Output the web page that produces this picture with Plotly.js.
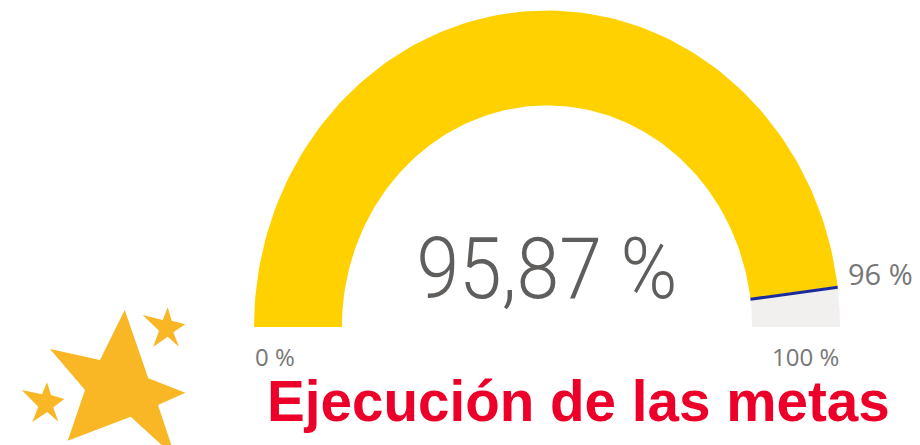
<!DOCTYPE html>
<html><head><meta charset="utf-8">
<script src="https://cdn.plot.ly/plotly-3.0.1.min.js"></script>
<style>html,body{margin:0;padding:0;background:#fff}#c{width:920px;height:445px}</style></head>
<body><div id="c"></div>
<script>
var gaugeMin = 0, gaugeMax = 100;
var gaugeValue = 95.87;
var gaugeTarget = 96;
var valueLabel = '95,87 %';
var minLabel = '0 %', maxLabel = '100 %', targetLabel = '96 %';
var titleText = 'Ejecución de las metas';
var colors = {bar:'#FFD100', rest:'#F1F0EF', target:'#1B2A9C', star:'#F9B625', title:'#EC0029', big:'#605E5C', small:'#777777'};
var innerRatio = 0.7;

var W = 920, H = 445, cx = 547, cy = 327, rx = 293, ry = 316.5;

function pt(pct, r){
  var a = Math.PI * (1 - (pct - gaugeMin) / (gaugeMax - gaugeMin));
  return [r * Math.cos(a), r * Math.sin(a)];
}
function band(from, to){
  var xs = [], ys = [], n = 120, i, p;
  for (i = 0; i <= n; i++){ p = pt(from + (to - from) * i / n, 1); xs.push(p[0]); ys.push(p[1]); }
  for (i = n; i >= 0; i--){ p = pt(from + (to - from) * i / n, innerRatio); xs.push(p[0]); ys.push(p[1]); }
  xs.push(xs[0]); ys.push(ys[0]);
  return {x:xs, y:ys};
}
var barBand = band(gaugeMin, gaugeValue), restBand = band(gaugeValue, gaugeMax);
var t0 = pt(gaugeTarget, innerRatio), t1 = pt(gaugeTarget, 1);

var data = [
  {type:'scatter', mode:'lines', x:restBand.x, y:restBand.y, fill:'toself', fillcolor:colors.rest, line:{width:0}, hoverinfo:'skip', name:'Restante'},
  {type:'scatter', mode:'lines', x:barBand.x, y:barBand.y, fill:'toself', fillcolor:colors.bar, line:{width:0}, hoverinfo:'skip', name:'Ejecución'},
  {type:'scatter', mode:'lines', x:[t0[0], t1[0]], y:[t0[1], t1[1]], line:{color:colors.target, width:3}, hoverinfo:'skip', name:'Meta'}
];

var bigStar = [[124.7,310],[148.3,378.3],[185.3,392.7],[158,405],[171.3,445],[161.7,445],[130.7,416.7],[67.7,440.7],[85,390],[50,349],[100,360]];
var starTR = [[167.7,307.3],[171.7,320.7],[185.3,324.3],[173.3,332.3],[179,346.7],[167.7,336.7],[153.3,346.7],[159,330.7],[142.7,315],[162.7,320]];
var starL = [[47,382.3],[51,395],[64.3,399],[53.3,407.3],[58.3,421.7],[47.3,412],[32.3,422],[38.3,406.7],[21.7,390],[42,394.3]];
function star(v){
  var d = v.map(function(p, i){ return (i ? 'L' : 'M') + (p[0] / W) + ',' + (1 - p[1] / H); }).join(' ') + ' Z';
  return {type:'path', xref:'paper', yref:'paper', path:d, fillcolor:colors.star, line:{width:0}, layer:'above'};
}
function note(text, px, py, size, color, anchor, family, weight){
  return {text:text, xref:'paper', yref:'paper', x:px / W, y:1 - py / H, xanchor:anchor, yanchor:'middle', showarrow:false,
    font:{size:size, color:color, family:family, weight:weight || 400}, borderpad:0};
}
var layout = {
  width:W, height:H, margin:{l:0, r:0, t:0, b:0}, paper_bgcolor:'#fff', plot_bgcolor:'#fff', showlegend:false,
  xaxis:{range:[-cx / rx, (W - cx) / rx], visible:false, fixedrange:true},
  yaxis:{range:[-(H - cy) / ry, cy / ry], visible:false, fixedrange:true},
  shapes:[star(bigStar), star(starTR), star(starL)],
  annotations:[
    note(valueLabel, 547, 268, 86, colors.big, 'center', 'Roboto', 300),
    note(minLabel, 254, 356, 24, colors.small, 'left', 'Open Sans', 400),
    note(maxLabel, 840, 356, 24, colors.small, 'right', 'Open Sans', 400),
    note(targetLabel, 847, 273, 29, colors.small, 'left', 'Open Sans', 400),
    note(titleText, 578, 401, 56.6, colors.title, 'center', 'Liberation Sans', 700)
  ]
};
Plotly.newPlot('c', data, layout, {displayModeBar:false, staticPlot:true}).then(function(){
  var big = document.querySelector('#c .annotation-text');
  if (big){ big.setAttribute('textLength', '261'); big.setAttribute('lengthAdjust', 'spacingAndGlyphs'); }
});
</script></body></html>
